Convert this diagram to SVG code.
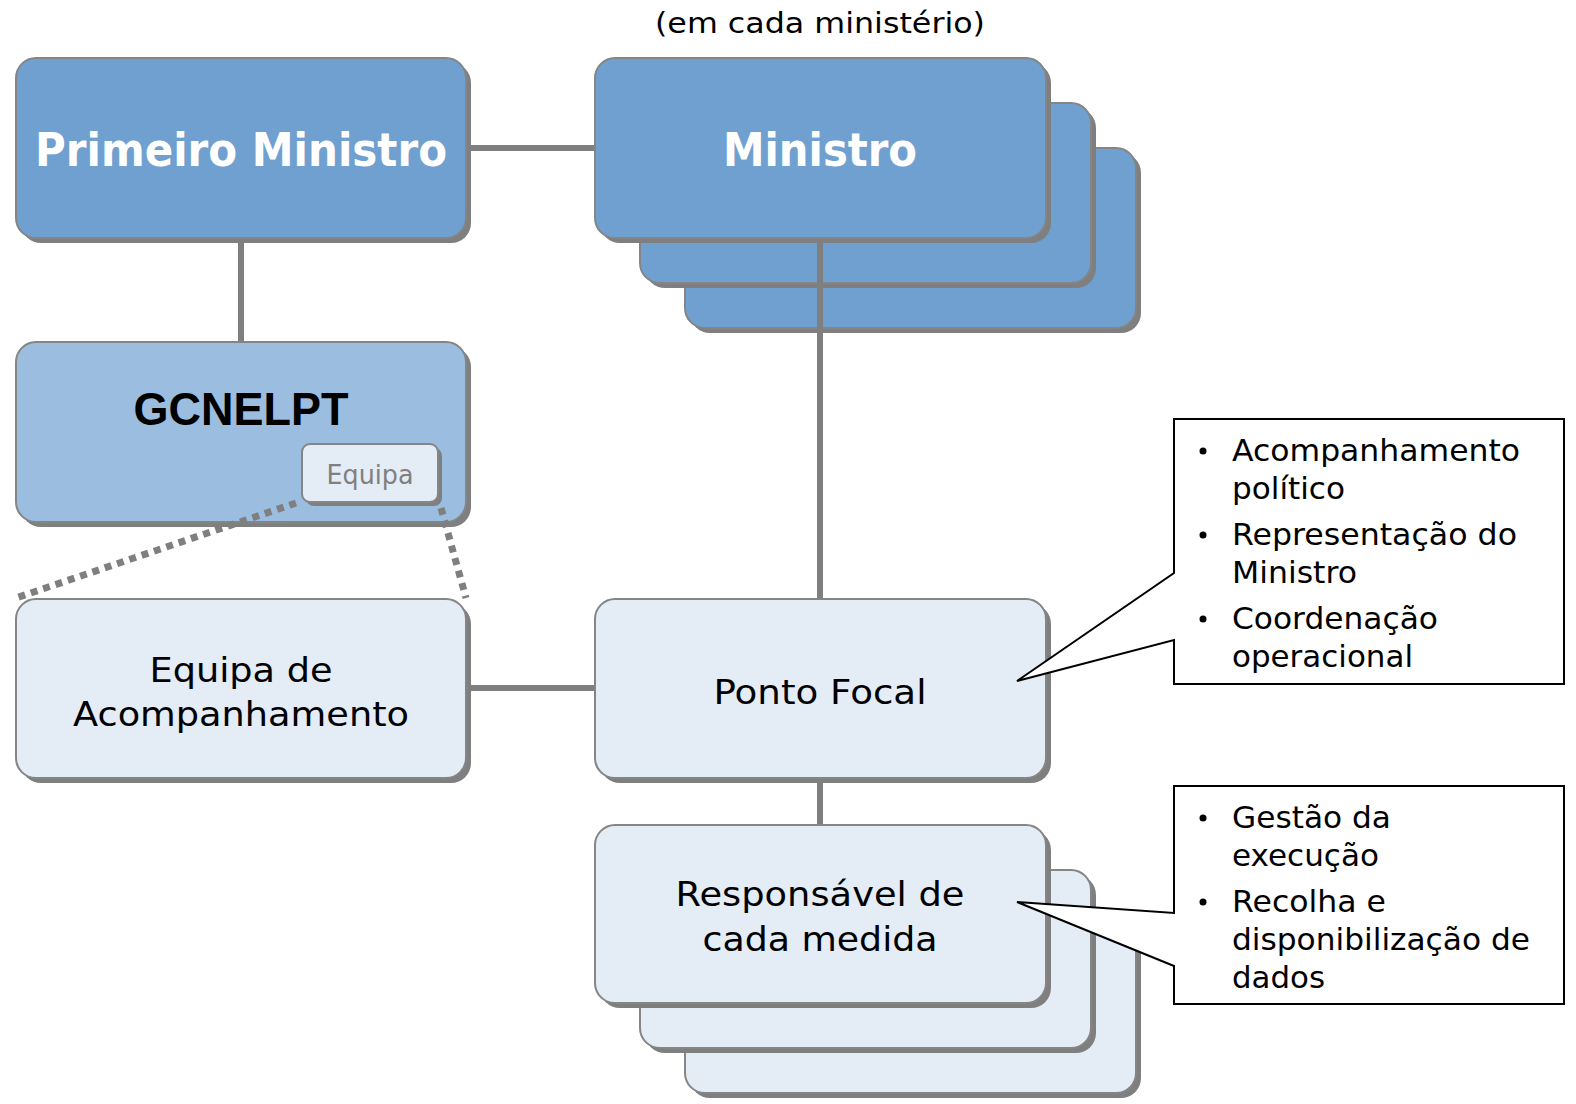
<svg xmlns="http://www.w3.org/2000/svg" width="1576" height="1104" viewBox="0 0 1576 1104">
<defs>
<style>
.sh{fill:#7f7f7f}
.dark{fill:#70a0d0;stroke:#858585;stroke-width:2}
.mid{fill:#9bbde0;stroke:#858585;stroke-width:2}
.light{fill:#e4ecf6;stroke:#858585;stroke-width:2}
.conn{stroke:#7f7f7f;stroke-width:6;fill:none}
.dot{stroke:#7f7f7f;stroke-width:7;fill:none;stroke-dasharray:7 6}
.t{font-family:"DejaVu Sans","Verdana",sans-serif}
.hb{font-family:"DejaVu Sans",sans-serif;font-weight:bold;fill:#fff;font-size:46px}
.n{font-family:"DejaVu Sans",sans-serif;fill:#000;font-size:34px}
.c{font-family:"DejaVu Sans",sans-serif;fill:#000;font-size:31px}
.callout{fill:#fff;stroke:#000;stroke-width:2}
</style>
</defs>
<rect width="1576" height="1104" fill="#fff"/>
<text class="t" x="820" y="33" text-anchor="middle" font-size="28" textLength="330" lengthAdjust="spacingAndGlyphs">(em cada ministério)</text>

<g id="connectors">
<line class="conn" x1="466" y1="148" x2="596" y2="148"/>
<line class="conn" x1="241" y1="238" x2="241" y2="343"/>
<line class="conn" x1="820" y1="238" x2="820" y2="601"/>
<line class="conn" x1="466" y1="688" x2="596" y2="688"/>
<line class="conn" x1="820" y1="778" x2="820" y2="826"/>
</g>

<g id="primeiro-ministro">
<rect class="sh" x="21" y="63" width="450" height="180" rx="20"/>
<rect class="dark" x="16" y="58" width="450" height="180" rx="20"/>
<text class="hb" x="241" y="166" text-anchor="middle" textLength="412" lengthAdjust="spacingAndGlyphs">Primeiro Ministro</text>
</g>

<g id="ministro">
<rect class="sh" x="690" y="153" width="451" height="180" rx="20"/>
<rect class="dark" x="685" y="148" width="451" height="180" rx="20"/>
<rect class="sh" x="645" y="108" width="451" height="180" rx="20"/>
<rect class="dark" x="640" y="103" width="451" height="180" rx="20"/>
<line class="conn" x1="820" y1="283" x2="820" y2="330"/>
<rect class="sh" x="600" y="63" width="451" height="180" rx="20"/>
<rect class="dark" x="595" y="58" width="451" height="180" rx="20"/>
<text class="hb" x="820" y="166" text-anchor="middle" textLength="194" lengthAdjust="spacingAndGlyphs">Ministro</text>
</g>
<line class="conn" x1="820" y1="241" x2="820" y2="330"/>

<g id="gcnelpt">
<rect class="sh" x="21" y="347" width="450" height="180" rx="20"/>
<rect class="mid" x="16" y="342" width="450" height="180" rx="20"/>
<text x="241" y="425" text-anchor="middle" font-family="'Liberation Sans',Arial,sans-serif" font-weight="bold" font-size="47" textLength="215" lengthAdjust="spacingAndGlyphs">GCNELPT</text>
</g>

<g id="equipa">
<rect class="sh" x="306" y="448" width="136" height="58" rx="8"/>
<rect class="light" x="302" y="444" width="136" height="58" rx="8"/>
<text class="t" x="370" y="484" text-anchor="middle" font-size="26" fill="#808080" textLength="87" lengthAdjust="spacingAndGlyphs">Equipa</text>
</g>

<g id="dotted-links">
<line class="dot" x1="296" y1="503" x2="16" y2="598"/>
<line class="dot" x1="441" y1="508" x2="466" y2="598"/>
</g>

<g id="equipa-acompanhamento">
<rect class="sh" x="21" y="604" width="450" height="179" rx="20"/>
<rect class="light" x="16" y="599" width="450" height="179" rx="20"/>
<text class="n" x="241" y="682" text-anchor="middle" textLength="183" lengthAdjust="spacingAndGlyphs">Equipa de</text>
<text class="n" x="241" y="726" text-anchor="middle" textLength="336" lengthAdjust="spacingAndGlyphs">Acompanhamento</text>
</g>

<g id="ponto-focal">
<rect class="sh" x="600" y="604" width="451" height="179" rx="20"/>
<rect class="light" x="595" y="599" width="451" height="179" rx="20"/>
<text class="n" x="820" y="704" text-anchor="middle" textLength="213" lengthAdjust="spacingAndGlyphs">Ponto Focal</text>
</g>

<g id="responsavel">
<rect class="sh" x="690" y="920" width="451" height="178" rx="20"/>
<rect class="light" x="685" y="915" width="451" height="178" rx="20"/>
<rect class="sh" x="645" y="875" width="451" height="178" rx="20"/>
<rect class="light" x="640" y="870" width="451" height="178" rx="20"/>
<rect class="sh" x="600" y="830" width="451" height="178" rx="20"/>
<rect class="light" x="595" y="825" width="451" height="178" rx="20"/>
<text class="n" x="820" y="906" text-anchor="middle" textLength="289" lengthAdjust="spacingAndGlyphs">Responsável de</text>
<text class="n" x="820" y="951" text-anchor="middle" textLength="235" lengthAdjust="spacingAndGlyphs">cada medida</text>
</g>

<g id="callout-ponto-focal">
<path class="callout" d="M1174,419 H1564 V684 H1174 V640 L1017,681 L1174,573 Z"/>
<circle cx="1203" cy="451" r="3.5"/>
<circle cx="1203" cy="535" r="3.5"/>
<circle cx="1203" cy="619" r="3.5"/>
<text class="c" x="1232" y="461" textLength="288" lengthAdjust="spacingAndGlyphs">Acompanhamento</text>
<text class="c" x="1232" y="499" textLength="113" lengthAdjust="spacingAndGlyphs">político</text>
<text class="c" x="1232" y="545" textLength="285" lengthAdjust="spacingAndGlyphs">Representação do</text>
<text class="c" x="1232" y="583" textLength="125" lengthAdjust="spacingAndGlyphs">Ministro</text>
<text class="c" x="1232" y="629" textLength="206" lengthAdjust="spacingAndGlyphs">Coordenação</text>
<text class="c" x="1232" y="667" textLength="181" lengthAdjust="spacingAndGlyphs">operacional</text>
</g>

<g id="callout-responsavel">
<path class="callout" d="M1174,786 H1564 V1004 H1174 V966 L1017,902 L1174,913 Z"/>
<circle cx="1203" cy="818" r="3.5"/>
<circle cx="1203" cy="902" r="3.5"/>
<text class="c" x="1232" y="828" textLength="159" lengthAdjust="spacingAndGlyphs">Gestão da</text>
<text class="c" x="1232" y="866" textLength="147" lengthAdjust="spacingAndGlyphs">execução</text>
<text class="c" x="1232" y="912" textLength="154" lengthAdjust="spacingAndGlyphs">Recolha e</text>
<text class="c" x="1232" y="950" textLength="298" lengthAdjust="spacingAndGlyphs">disponibilização de</text>
<text class="c" x="1232" y="988" textLength="93" lengthAdjust="spacingAndGlyphs">dados</text>
</g>
</svg>
